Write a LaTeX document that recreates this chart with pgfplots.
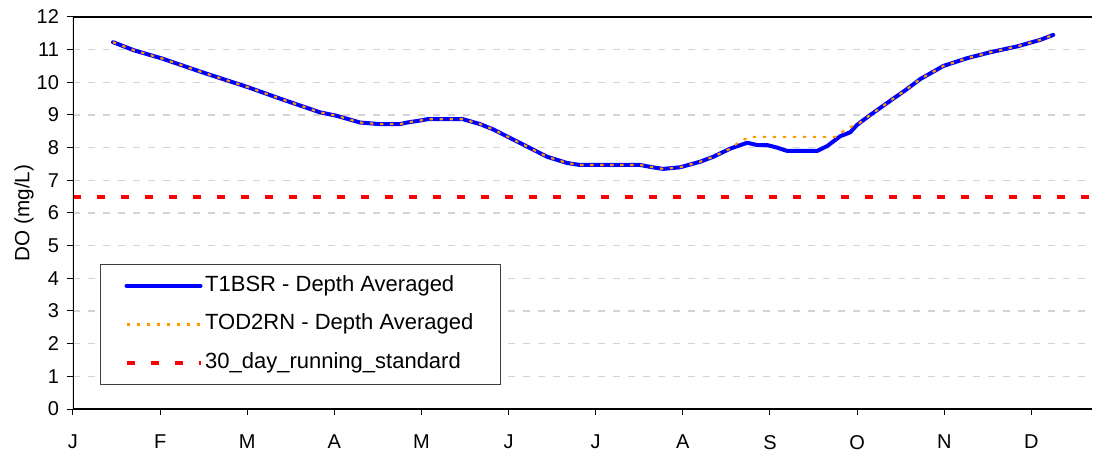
\documentclass[border=0pt]{standalone}
\usepackage{pgfplots}
\pgfplotsset{compat=1.18}
\usepackage{fontspec}
\setmainfont{Liberation Sans}
\definecolor{gridgray}{HTML}{D4D4D4}
\definecolor{dorange}{HTML}{FF9900}
\begin{document}
\begin{tikzpicture}
\useasboundingbox (-54.75pt,-35.25pt) rectangle (765.75pt,306.75pt);
\begin{axis}[
  at={(0,0)}, anchor=south west, scale only axis,
  width=764.5pt, height=294pt,
  xmin=0, xmax=11.7, ymin=0, ymax=12,
  xtick={0,1,2,3,4,5,6,7,8,9,10,11},
  xticklabels={J,F,M,A,M,J,J,A,S,O,N,D},
  ytick={0,1,2,3,4,5,6,7,8,9,10,11,12},
  xtick pos=left, ytick pos=left,
  tick align=outside, major tick length=4.5pt,
  every tick/.style={black, line width=0.75pt},
  axis line style={draw=none},
  ymajorgrids,
  grid style={gridgray, line width=1pt, dash pattern=on 5.25pt off 6pt},
  /pgf/number format/assume math mode=true,
  ticklabel style={font=\fontsize{15}{18}\selectfont},
  yticklabel style={xshift=-2.5pt},
  xticklabel style={yshift=-11.5pt},
  ylabel={DO (mg/L)},
  ylabel style={font=\fontsize{15.5}{18}\selectfont, at={(axis description cs:-0.048,0.5)}, anchor=center},
  legend cell align=left,
  legend style={at={(axis description cs:0.0265,0.370)}, anchor=north west,
    draw=black!75, line width=0.75pt, font=\fontsize{16.5}{19}\selectfont,
    inner xsep=18pt, inner ysep=7pt, row sep=11pt, column sep=0pt,
    nodes={text height=11pt, text depth=3pt, inner sep=2pt}},
  legend image code/.code={\draw[#1] (0pt,0pt) -- (55.5pt,0pt);},
]
\addplot[color=blue, line width=3pt, line join=round, line cap=round] coordinates {
(0.459,11.23) (0.7,10.98) (1.022,10.73) (1.458,10.33) (2.009,9.85) (2.377,9.50)
(2.836,9.08) (3.020,8.98) (3.295,8.77) (3.525,8.72) (3.754,8.72) (3.835,8.77)
(3.984,8.83) (4.064,8.87) (4.478,8.87) (4.673,8.72) (4.822,8.56) (5.052,8.25)
(5.281,7.94) (5.442,7.72) (5.672,7.53) (5.821,7.47) (6.05,7.47) (6.51,7.47)
(6.65,7.40) (6.774,7.35) (6.969,7.40) (7.199,7.57) (7.348,7.72) (7.543,7.97)
(7.738,8.15) (7.853,8.08) (7.968,8.08) (8.083,8.00) (8.197,7.90) (8.542,7.90)
(8.657,8.05) (8.806,8.35) (8.921,8.47) (9.001,8.70) (9.150,9.00) (9.415,9.50)
(9.55,9.75) (9.725,10.10) (9.989,10.50) (10.264,10.74) (10.528,10.92)
(10.838,11.10) (11.102,11.30) (11.251,11.45)
};
\addlegendentry{T1BSR - Depth Averaged}
\addplot[color=dorange, line width=1.6pt, dash pattern=on 2.5pt off 5pt] coordinates {
(0.459,11.23) (0.7,10.98) (1.022,10.73) (1.458,10.33) (2.009,9.85) (2.377,9.50)
(2.836,9.08) (3.020,8.98) (3.295,8.77) (3.525,8.72) (3.754,8.72) (3.835,8.77)
(3.984,8.83) (4.064,8.87) (4.478,8.87) (4.673,8.72) (4.822,8.56) (5.052,8.25)
(5.281,7.94) (5.442,7.72) (5.672,7.53) (5.821,7.47) (6.05,7.47) (6.51,7.47)
(6.65,7.40) (6.774,7.35) (6.969,7.40) (7.199,7.57) (7.348,7.72) (7.543,7.97)
(7.658,8.20) (7.77,8.33) (8.749,8.33) (8.886,8.60) (9.001,8.70) (9.150,9.00)
(9.415,9.50) (9.55,9.75) (9.725,10.10) (9.989,10.50) (10.264,10.74) (10.528,10.92)
(10.838,11.10) (11.102,11.30) (11.251,11.45)
};
\addlegendentry{TOD2RN - Depth Averaged}
\addplot[color=red, line width=3pt, dash pattern=on 6pt off 12pt] coordinates {
(0,6.5) (11.7,6.5)
};
\addlegendentry{30\_day\_running\_standard}
\draw[black, line width=1.5pt] (rel axis cs:0,1) -- (rel axis cs:0,0) -- (rel axis cs:1,0);
\draw[black, line width=1.5pt] (rel axis cs:0,1) -- (rel axis cs:1,1);
\end{axis}
\end{tikzpicture}
\end{document}
